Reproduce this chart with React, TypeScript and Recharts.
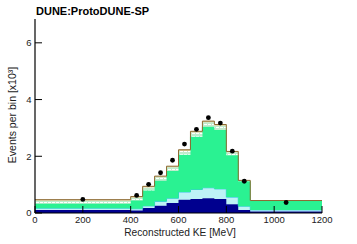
import { ComposedChart, Area, Scatter, XAxis, YAxis } from 'recharts';

// bin edges in reconstructed KE [MeV]; last bin is 900-1200
const binEdges = [0, 400, 450, 500, 550, 600, 650, 700, 750, 800, 850, 900, 1200];

// stacked MC contributions per bin, events x10^3
const navyPart = [0.11, 0.09, 0.18, 0.26, 0.35, 0.47, 0.49, 0.52, 0.49, 0.31, 0.11, 0.05];
const cyanPart = [0.06, 0.06, 0.07, 0.15, 0.17, 0.27, 0.34, 0.37, 0.36, 0.25, 0.13, 0.06];
const greenPart = [0.16, 0.29, 0.54, 0.73, 0.96, 1.31, 1.86, 2.15, 2.08, 1.48, 0.88, 0.31];
const hatchPart = [0.10, 0.10, 0.11, 0.12, 0.13, 0.14, 0.15, 0.16, 0.15, 0.10, 0.02, 0.02];
const olivePart = [0.04, 0.04, 0.04, 0.04, 0.04, 0.04, 0.04, 0.04, 0.04, 0.03, 0.01, 0.0];

// data points
const dataCenters = [200, 425, 475, 525, 575, 625, 675, 725, 775, 825, 875, 1050];
const dataCounts = [0.48, 0.62, 1.01, 1.42, 1.86, 2.43, 2.95, 3.36, 3.17, 2.18, 1.12, 0.37];

const xMajor = [0, 200, 400, 600, 800, 1000, 1200];
const xMinor = [0, 50, 100, 150, 200, 250, 300, 350, 400, 450, 500, 550, 600, 650, 700, 750, 800, 850, 900, 950, 1000, 1050, 1100, 1150, 1200];
const yMajor = [0, 2, 4, 6];
const yMinor = [0, 0.5, 1, 1.5, 2, 2.5, 3, 3.5, 4, 4.5, 5, 5.5, 6, 6.5];

const rows = binEdges.map((x, i) => {
  const b = Math.min(i, navyPart.length - 1);
  return {
    x,
    navy: navyPart[b],
    cyan: cyanPart[b],
    green: greenPart[b],
    hatch: hatchPart[b],
    olive: olivePart[b],
  };
});

const points = dataCenters.map((x, i) => ({ x, y: dataCounts[i] }));

const FONT = '"Liberation Sans", Arial, Helvetica, sans-serif';
const tickStyle = { fontSize: 9.5, fill: '#222', fontFamily: FONT };
const yDomain = [0, 6.84];

export default function App() {
  return (
    <div style={{ position: 'relative', width: 357, height: 244, background: '#fff' }}>
      <style>{`body{margin:0}`}</style>
      <ComposedChart
        width={357}
        height={244}
        data={rows}
        margin={{ top: 19, right: 35, bottom: 0, left: 0 }}
      >
        <defs>
          <pattern id="hatchBand" width="4" height="3" patternUnits="userSpaceOnUse">
            <rect width="4" height="3" fill="#bfeccd" />
            <rect x="0" y="1" width="3" height="1" fill="#ffffff" />
          </pattern>
        </defs>
        <Area dataKey="navy" stackId="s" type="stepAfter" fill="#00008f" fillOpacity={1} stroke="#00008f" strokeWidth={1} isAnimationActive={false} />
        <Area dataKey="cyan" stackId="s" type="stepAfter" fill="#bdf2f6" fillOpacity={1} stroke="#30c4e0" strokeWidth={1} isAnimationActive={false} />
        <Area dataKey="green" stackId="s" type="stepAfter" fill="#2af292" fillOpacity={1} stroke="#2af292" strokeWidth={1} isAnimationActive={false} />
        <Area dataKey="hatch" stackId="s" type="stepAfter" fill="url(#hatchBand)" fillOpacity={1} stroke="none" isAnimationActive={false} />
        <Area dataKey="olive" stackId="s" type="stepAfter" fill="#d9cf9a" fillOpacity={1} stroke="#8d6a32" strokeWidth={1} isAnimationActive={false} />
        <Scatter
          data={points}
          dataKey="y"
          fill="#000"
          isAnimationActive={false}
          shape={(p: any) => <circle cx={p.cx} cy={p.cy} r={2.4} fill="#000" />}
        />

        <XAxis
          dataKey="x"
          type="number"
          domain={[0, 1200]}
          allowDataOverflow
          ticks={xMajor}
          interval={0}
          height={31}
          tickSize={-7}
          tickMargin={10}
          stroke="#000"
          tick={tickStyle}
          axisLine={{ stroke: '#000', strokeWidth: 1.2 }}
          tickLine={{ stroke: '#000' }}
        />
        <XAxis xAxisId="xMinor" type="number" dataKey="x" domain={[0, 1200]} allowDataOverflow ticks={xMinor} interval={0} mirror height={0} tickSize={4} tick={false} axisLine={false} tickLine={{ stroke: '#000' }} />
        <XAxis xAxisId="top" orientation="top" type="number" dataKey="x" domain={[0, 1200]} allowDataOverflow ticks={xMajor} interval={0} mirror height={0} tickSize={7} tick={false} axisLine={{ stroke: '#000', strokeWidth: 1.2 }} tickLine={{ stroke: '#000' }} />
        <XAxis xAxisId="topMinor" orientation="top" type="number" dataKey="x" domain={[0, 1200]} allowDataOverflow ticks={xMinor} interval={0} mirror height={0} tickSize={4} tick={false} axisLine={false} tickLine={{ stroke: '#000' }} />

        <YAxis
          type="number"
          domain={yDomain}
          allowDataOverflow
          ticks={yMajor}
          interval={0}
          width={35}
          tickSize={-7}
          tickMargin={10.5}
          tick={tickStyle}
          axisLine={{ stroke: '#000', strokeWidth: 1.2 }}
          tickLine={{ stroke: '#000' }}
        />
        <YAxis yAxisId="yMinor" type="number" domain={yDomain} allowDataOverflow ticks={yMinor} interval={0} mirror width={0} tickSize={4} tick={false} axisLine={false} tickLine={{ stroke: '#000' }} />
        <YAxis yAxisId="right" orientation="right" type="number" domain={yDomain} allowDataOverflow ticks={yMajor} interval={0} mirror width={0} tickSize={7} tick={false} axisLine={{ stroke: '#000', strokeWidth: 1.2 }} tickLine={{ stroke: '#000' }} />
        <YAxis yAxisId="rightMinor" orientation="right" type="number" domain={yDomain} allowDataOverflow ticks={yMinor} interval={0} mirror width={0} tickSize={4} tick={false} axisLine={false} tickLine={{ stroke: '#000' }} />
      </ComposedChart>

      <svg
        width={357}
        height={244}
        style={{ position: 'absolute', left: 0, top: 0, pointerEvents: 'none' }}
      >
        <text x={36} y={14.5} fontFamily={FONT} fontWeight="bold" fontSize={11} fill="#000">
          DUNE:ProtoDUNE-SP
        </text>
        <text x={180} y={236} textAnchor="middle" fontFamily={FONT} fontSize={10.2} fill="#222">
          Reconstructed KE [MeV]
        </text>
        <text
          transform="translate(16, 115) rotate(-90)"
          textAnchor="middle"
          fontFamily={FONT}
          fontSize={10.5}
          fill="#222"
        >
          Events per bin [x10³]
        </text>
      </svg>
    </div>
  );
}
